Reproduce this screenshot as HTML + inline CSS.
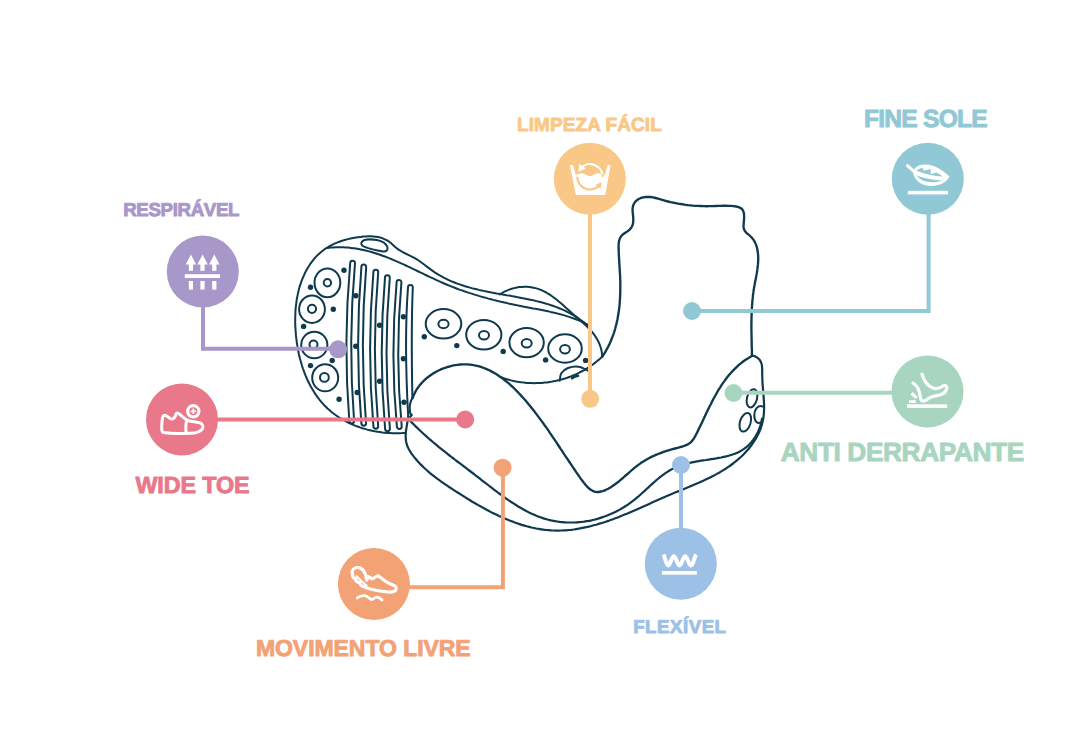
<!DOCTYPE html>
<html><head><meta charset="utf-8"><style>
html,body{margin:0;padding:0;background:#fff;width:1080px;height:750px;overflow:hidden}
svg{display:block}
</style></head><body>
<svg width="1080" height="750" viewBox="0 0 1080 750">
<rect width="1080" height="750" fill="#fff"/>
<g fill="none" stroke="#0f3a4e" stroke-width="2.00" stroke-linecap="round" stroke-linejoin="round">
<path d="M404.7,432.9L402.3,433.1L399.9,433.2L397.4,433.3L395.0,433.3L392.5,433.2L390.0,433.1L387.5,433.0L384.9,432.8L382.4,432.5L379.9,432.1L377.4,431.7L374.8,431.3L372.3,430.8L369.8,430.2L367.3,429.6L364.9,428.9L362.4,428.2L360.0,427.4L357.5,426.5L355.1,425.6L352.8,424.6L350.4,423.6L348.1,422.5L345.9,421.4L343.6,420.2L341.5,418.9L339.3,417.6L337.2,416.2L335.2,414.8L333.2,413.3L331.2,411.7L329.4,410.1L327.5,408.5L325.8,406.7L324.0,405.0L322.4,403.2L320.8,401.3L319.2,399.4L317.7,397.4L316.3,395.4L314.9,393.4L313.6,391.3L312.3,389.1L311.0,387.0L309.9,384.8L308.7,382.5L307.6,380.3L306.6,378.0L305.6,375.7L304.7,373.3L303.8,370.9L302.9,368.5L302.1,366.1L301.4,363.6L300.7,361.2L300.0,358.7L299.4,356.2L298.8,353.7L298.3,351.2L297.8,348.6L297.4,346.1L297.0,343.5L296.6,341.0L296.3,338.4L296.0,335.9L295.8,333.3L295.6,330.7L295.4,328.2L295.3,325.6L295.2,323.1L295.2,320.5L295.2,318.0L295.3,315.5L295.4,312.9L295.5,310.4L295.7,307.9L296.0,305.4L296.3,302.9L296.6,300.5L297.0,298.0L297.5,295.6L298.0,293.1L298.6,290.7L299.2,288.3L299.9,285.9L300.7,283.6L301.5,281.2L302.4,278.9L303.4,276.6L304.4,274.3L305.5,272.0L306.7,269.8L308.0,267.6L309.3,265.5L310.7,263.3L312.2,261.3L313.7,259.3L315.4,257.4L317.1,255.6L318.9,253.9L320.8,252.2L322.7,250.7L324.7,249.2L326.8,247.8L329.0,246.5L331.2,245.3L333.5,244.2L335.8,243.2L338.2,242.2L340.6,241.3L343.0,240.5L345.5,239.8L348.0,239.1L350.5,238.5L353.1,238.0L355.6,237.6L358.2,237.2L360.7,236.9L363.3,236.6L365.8,236.4L368.3,236.3L370.8,236.3L373.3,236.4L375.7,236.7L378.1,237.1L380.4,237.6L382.7,238.3L384.9,239.3L387.1,240.4L389.1,241.7L391.1,243.3L393.0,245.0L394.9,246.8L396.9,248.4L399.0,249.9L401.1,251.2L403.3,252.4L405.5,253.5L407.7,254.6L409.9,255.7L412.2,256.8L414.4,257.9L416.5,259.2L418.6,260.5L420.7,262.0L422.8,263.5L424.8,265.0L426.8,266.6L428.9,268.1L430.9,269.6L433.0,271.1L435.1,272.6L437.2,273.9L439.3,275.2L441.5,276.4L443.7,277.6L445.9,278.7L448.2,279.8L450.4,280.8L452.7,281.8L455.0,282.7L457.3,283.6L459.7,284.4L462.1,285.2L464.4,286.0L466.8,286.7L469.2,287.4L471.7,288.1L474.1,288.7L476.6,289.3L479.0,289.9L481.5,290.4L484.0,291.0L486.5,291.5L489.0,292.0L491.5,292.5L494.0,292.9L496.5,293.4L499.0,293.8L501.5,294.3L504.0,294.7L506.6,295.2L509.1,295.6L511.6,296.1L514.1,296.5L516.6,297.0L519.1,297.4L521.7,297.9L524.2,298.4L526.7,298.9L529.1,299.4L531.6,299.9L534.1,300.5L536.5,301.1L539.0,301.7L541.4,302.3L543.9,303.0L546.3,303.7L548.7,304.4L551.0,305.2L553.4,306.0L555.7,306.9L558.1,307.8L560.4,308.7L562.6,309.7L564.9,310.7L567.1,311.8L569.4,312.9L571.5,314.1L573.7,315.4L575.9,316.7L578.0,318.1L580.0,319.5L582.1,321.0L584.1,322.6L586.1,324.2L588.1,325.9"/>
<path d="M327.8,247.9L330.4,247.6L333.1,247.4L335.7,247.3L338.3,247.2L340.8,247.2L343.4,247.3L345.9,247.4L348.4,247.6L350.9,247.9L353.4,248.2L355.9,248.6L358.4,249.0L360.8,249.5L363.3,250.0L365.7,250.5L368.1,251.1L370.6,251.8L373.0,252.5L375.4,253.2L377.7,254.0L380.1,254.8L382.5,255.7L384.9,256.5L387.2,257.4L389.6,258.4L391.9,259.3L394.2,260.3L396.6,261.3L398.9,262.3L401.2,263.4L403.5,264.4L405.9,265.5L408.2,266.6L410.5,267.7L412.8,268.8L415.1,269.9L417.4,271.0L419.7,272.1L422.0,273.2L424.4,274.3L426.7,275.5L429.0,276.6L431.3,277.7L433.6,278.7L436.0,279.8L438.3,280.9L440.6,281.9L443.0,283.0L445.3,284.0L447.7,285.0L450.0,285.9L452.4,286.9L454.7,287.8L457.1,288.7L459.5,289.6L461.9,290.4L464.3,291.3L466.7,292.1L469.1,292.9L471.5,293.6L473.9,294.4L476.3,295.1L478.8,295.9L481.2,296.6L483.6,297.3L486.1,297.9L488.5,298.6L491.0,299.2L493.4,299.9L495.9,300.5L498.3,301.1L500.8,301.7L503.3,302.2L505.7,302.8L508.2,303.4L510.7,303.9L513.2,304.4L515.6,304.9L518.1,305.5L520.6,306.0L523.1,306.5L525.6,306.9L528.1,307.4L530.6,307.9L533.1,308.4L535.6,308.8L538.1,309.3L540.6,309.8L543.0,310.3L545.5,310.8L548.0,311.3L550.5,311.9L552.9,312.4L555.4,313.0L557.8,313.6L560.3,314.3L562.7,314.9L565.1,315.6L567.5,316.4L569.9,317.1L572.3,318.0L574.6,318.8L577.0,319.7L579.3,320.7L581.6,321.7L583.9,322.7L586.1,323.8L588.4,325.0"/>
<path d="M499.9,294.4L502.1,293.0L504.4,291.7L506.8,290.6L509.2,289.6L511.7,288.8L514.2,288.1L516.8,287.5L519.4,287.1L522.0,286.9L524.6,286.8L527.1,286.8L529.7,287.0L532.2,287.4L534.7,287.9L537.1,288.6L539.5,289.4L541.8,290.3L544.1,291.4L546.3,292.5L548.5,293.8L550.6,295.2L552.7,296.7L554.7,298.2L556.8,299.8L558.7,301.4L560.7,303.1L562.7,304.8L564.6,306.5L566.5,308.3L568.5,310.0L570.4,311.7L572.3,313.5L574.3,315.2L576.3,316.9L578.3,318.5L580.2,320.2L582.1,321.9L584.0,323.7L585.9,325.4L587.7,327.2L589.5,329.0L591.2,330.9L592.8,332.9L594.3,334.9L595.7,336.9L597.0,339.1L598.2,341.3L599.3,343.6L600.2,346.0L601.0,348.5L601.6,351.1L602.0,353.8L602.3,356.6"/>
<path d="M602.4,356.4L600.5,358.2L598.6,359.9L596.6,361.5L594.6,363.1L592.5,364.7L590.4,366.2L588.2,367.6L586.0,369.0L583.8,370.3L581.5,371.5L579.2,372.7L576.9,373.8L574.6,374.9L572.2,375.8L569.8,376.8L567.3,377.7L564.9,378.5L562.4,379.2L559.9,379.9L557.4,380.5L554.8,381.1L552.3,381.6L549.7,382.0L547.2,382.4L544.6,382.6L542.0,382.9L539.4,383.0L536.8,383.1L534.2,383.2L531.6,383.1L529.1,383.0L526.5,382.9L523.9,382.6L521.3,382.3L518.8,381.9L516.2,381.5L513.7,381.0L511.2,380.4L508.7,379.7L506.2,379.0L503.7,378.2L501.3,377.3"/>
<path d="M412.6,398.2L413.5,395.8L414.6,393.4L415.7,391.2L417.0,389.0L418.5,386.9L420.0,384.9L421.7,383.0L423.4,381.2L425.3,379.4L427.2,377.7L429.2,376.2L431.3,374.7L433.5,373.3L435.7,372.0L438.0,370.8L440.3,369.7L442.7,368.7L445.1,367.8L447.5,367.0L450.0,366.3L452.5,365.7L455.0,365.2L457.5,364.8L460.0,364.5L462.5,364.4L465.0,364.3L467.4,364.4L469.8,364.6L472.3,364.9L474.6,365.3L477.0,365.8L479.3,366.4L481.6,367.1L483.9,368.0L486.1,368.9L488.3,369.8L490.5,370.9L492.7,372.1L494.8,373.3L496.9,374.6L499.0,376.0L501.1,377.4L503.1,378.9L505.1,380.5L507.1,382.1L509.1,383.7L511.0,385.5L512.9,387.2L514.8,389.0L516.6,390.9L518.4,392.7L520.2,394.6L522.0,396.6L523.8,398.5L525.5,400.5L527.2,402.5L528.8,404.5L530.5,406.5L532.1,408.5L533.7,410.5L535.3,412.6L536.8,414.6L538.3,416.6L539.8,418.6L541.3,420.6L542.8,422.6L544.2,424.7L545.7,426.7L547.1,428.7L548.5,430.7L549.9,432.8L551.3,434.8L552.6,436.8L554.0,438.8L555.4,440.9L556.7,442.9L558.1,445.0L559.4,447.0L560.8,449.1L562.2,451.1L563.5,453.2L564.9,455.3L566.3,457.3L567.7,459.4L569.1,461.5L570.5,463.6L571.9,465.7L573.3,467.8L574.8,470.0L576.2,472.1L577.7,474.2L579.2,476.4L580.7,478.6L582.3,480.7L583.9,482.8L585.5,484.8L587.2,486.6L588.9,488.3L590.7,489.7L592.6,490.8L594.6,491.6L596.7,492.0L598.9,492.0L601.2,491.5L603.5,490.8L605.9,489.8L608.2,488.7L610.4,487.4L612.6,486.0L614.7,484.5L616.8,483.0L618.9,481.3L620.9,479.7L622.9,478.0L624.9,476.2L626.8,474.5L628.8,472.8L630.8,471.0L632.7,469.3L634.7,467.7L636.7,466.1L638.7,464.6L640.8,463.1L642.9,461.7L645.0,460.4L647.1,459.2L649.3,458.0L651.4,456.9L653.7,455.9L655.9,454.9L658.2,454.0L660.5,453.1L662.9,452.2L665.2,451.4L667.6,450.6L670.1,449.9L672.5,449.2L675.0,448.5L677.5,447.9L680.1,447.2L682.5,446.5L684.9,445.7L687.2,444.7L689.2,443.5L691.0,442.1L692.5,440.4L693.9,438.5L695.1,436.4L696.2,434.3L697.3,432.1L698.4,429.9L699.5,427.6L700.6,425.4L701.6,423.2L702.7,420.9L703.8,418.6L704.9,416.3L705.9,414.1L707.0,411.8L708.1,409.5L709.2,407.2L710.4,405.0L711.5,402.7L712.7,400.4L713.8,398.2L715.1,396.0L716.3,393.8L717.5,391.6L718.8,389.4L720.2,387.3L721.5,385.2L722.9,383.1L724.4,381.1L725.9,379.0L727.4,377.1L729.0,375.1L730.6,373.2L732.3,371.4L734.0,369.6L735.8,367.8L737.6,366.1L739.5,364.4L741.5,362.8L743.5,361.3L745.6,359.8L747.8,358.4L750.1,357.1L752.4,355.8" stroke-width="2.35"/>
<path d="M752.0,355.5L751.9,353.0L751.9,350.4L751.8,347.9L751.7,345.4L751.7,342.9L751.6,340.3L751.6,337.8L751.5,335.3L751.5,332.7L751.4,330.2L751.4,327.7L751.4,325.2L751.4,322.6L751.5,320.1L751.5,317.6L751.6,315.1L751.7,312.5L751.8,310.0L751.9,307.5L752.1,305.0L752.3,302.5L752.5,299.9L752.8,297.4L753.0,294.9L753.4,292.4L753.7,289.9L754.1,287.4L754.6,284.9L755.0,282.4L755.5,279.9L756.0,277.4L756.5,274.9L756.9,272.4L757.3,269.9L757.6,267.4L757.9,264.9L758.1,262.4L758.2,259.8L758.2,257.3L758.1,254.8L757.8,252.3L757.4,249.8L756.9,247.3L756.1,244.9L755.1,242.6L753.9,240.4L752.4,238.4L750.6,236.5L748.6,234.7L746.7,233.1L745.0,231.3L744.0,229.3L743.5,227.0L743.6,224.5L743.8,221.9L744.1,219.1L744.1,216.4L744.0,213.8L743.4,211.5L742.4,209.5L740.8,208.1L738.6,207.1L736.2,206.5L733.6,206.2L731.0,205.9L728.5,205.8L725.9,205.7L723.3,205.7L720.8,205.8L718.2,205.9L715.7,206.0L713.1,206.1L710.6,206.1L708.0,206.2L705.5,206.2L703.0,206.1L700.5,206.0L698.0,205.9L695.5,205.8L693.0,205.6L690.5,205.3L688.0,205.1L685.6,204.8L683.1,204.4L680.6,204.0L678.1,203.6L675.6,203.1L673.1,202.6L670.6,202.1L668.1,201.5L665.6,200.8L663.1,200.1L660.6,199.4L658.1,198.7L655.6,198.0L653.1,197.4L650.6,197.0L648.1,196.9L645.6,197.0L643.2,197.4L640.8,198.0L638.7,199.0L636.8,200.3L635.1,201.9L633.9,203.8L633.0,206.0L632.6,208.5L632.6,211.2L632.9,214.1L633.2,216.9L633.3,219.7L633.2,222.3L632.7,224.7L631.8,226.8L630.5,228.7L628.8,230.4L626.8,231.8L624.5,233.2L622.5,234.7L620.9,236.5L619.8,238.5L619.1,240.8L618.7,243.2L618.6,245.8L618.6,248.4L618.7,251.0L618.8,253.6L618.9,256.2L619.1,258.8L619.2,261.3L619.4,263.8L619.5,266.3L619.7,268.8L619.8,271.3L620.0,273.8L620.1,276.3L620.2,278.8L620.3,281.3L620.3,283.8L620.3,286.4L620.3,288.9L620.3,291.4L620.2,294.0L620.1,296.5L620.0,299.0L619.8,301.6L619.6,304.1L619.4,306.6L619.1,309.1L618.7,311.7L618.3,314.2L617.9,316.7L617.5,319.2L616.9,321.6L616.4,324.1L615.7,326.5L615.1,329.0L614.4,331.4L613.6,333.8L612.7,336.2L611.8,338.5L610.9,340.9L609.9,343.2L608.8,345.4L607.6,347.7L606.4,349.9L605.2,352.1L603.8,354.3L602.4,356.4" stroke-width="2.35"/>
<path d="M751.8,355.2L754.9,356.2L757.3,357.6L759.1,359.2L760.4,361.0L761.3,363.0L761.9,365.2L762.1,367.5L762.2,369.9L762.2,372.4L762.2,374.9L762.3,377.5L762.4,380.0L762.5,382.6L762.7,385.2L762.9,387.8L763.1,390.4L763.3,393.0L763.5,395.6L763.7,398.2L763.9,400.8L764.0,403.4L764.1,406.0L764.1,408.5L764.0,411.0L763.9,413.5L763.6,416.0L763.3,418.5L762.8,420.9L762.2,423.3L761.6,425.7L760.8,428.0L759.9,430.3L759.0,432.5L757.9,434.7L756.7,436.9L755.5,439.1L754.2,441.2L752.8,443.2L751.4,445.3L749.9,447.2L748.3,449.2L746.6,451.1L744.9,452.9L743.2,454.7L741.4,456.5L739.5,458.2L737.6,459.8L735.7,461.4L733.7,463.0L731.7,464.5L729.7,466.0L727.6,467.4L725.5,468.8L723.4,470.1L721.2,471.4L719.1,472.7L716.9,473.9L714.7,475.1L712.4,476.3L710.2,477.4L707.9,478.5L705.6,479.6L703.3,480.7L701.0,481.7L698.7,482.8L696.3,483.8L694.0,484.8L691.6,485.8L689.3,486.8L686.9,487.8L684.6,488.7L682.2,489.7L679.9,490.7L677.5,491.6L675.1,492.6L672.8,493.6L670.5,494.5L668.1,495.5L665.8,496.5L663.5,497.5L661.2,498.6L658.9,499.6L656.6,500.6L654.3,501.6L652.0,502.6L649.7,503.7L647.5,504.7L645.2,505.7L642.9,506.7L640.6,507.8L638.4,508.8L636.1,509.8L633.8,510.8L631.5,511.8L629.2,512.7L626.9,513.7L624.6,514.6L622.3,515.6L620.0,516.5L617.7,517.4L615.3,518.3L613.0,519.2L610.6,520.0L608.3,520.9L605.9,521.7L603.5,522.5L601.1,523.2L598.6,523.9L596.2,524.7L593.7,525.3L591.3,526.0L588.8,526.6L586.3,527.2L583.8,527.7L581.3,528.2L578.7,528.7L576.2,529.1L573.7,529.5L571.2,529.8L568.6,530.0L566.1,530.3L563.6,530.4L561.1,530.5L558.6,530.6L556.1,530.6L553.6,530.5L551.1,530.4L548.6,530.2L546.1,530.0L543.7,529.7L541.2,529.3L538.8,528.9L536.4,528.5L533.9,528.0L531.5,527.5L529.1,526.9L526.7,526.3L524.3,525.6L521.9,524.9L519.5,524.1L517.2,523.3L514.8,522.5L512.5,521.6L510.1,520.7L507.8,519.8L505.4,518.8L503.1,517.8L500.8,516.8L498.5,515.7L496.2,514.6L493.9,513.5L491.6,512.4L489.4,511.2L487.1,510.0L484.9,508.8L482.6,507.6L480.4,506.3L478.2,505.1L475.9,503.8L473.7,502.5L471.5,501.2L469.3,499.8L467.1,498.5L465.0,497.1L462.8,495.8L460.6,494.4L458.5,493.0L456.3,491.7L454.2,490.3L452.1,488.9L449.9,487.5L447.8,486.1L445.7,484.7L443.7,483.3L441.6,481.8L439.6,480.4L437.5,478.9L435.5,477.4L433.6,475.9L431.6,474.3L429.7,472.8L427.8,471.2L426.0,469.5L424.1,467.8L422.4,466.1L420.6,464.4L418.9,462.6L417.2,460.7L415.6,458.8L414.0,456.9L412.5,454.9L411.0,452.8L409.7,450.7L408.5,448.5L407.4,446.3L406.6,443.9L406.1,441.5L405.8,439.1L405.7,436.6L405.7,434.1L405.9,431.5L406.3,428.9L406.7,426.4L407.1,423.8L407.6,421.3L408.0,418.8L408.4,416.4" stroke-width="2.2"/>
<path d="M410.3,421.0L412.2,422.9L414.1,424.8L415.9,426.6L417.8,428.4L419.7,430.2L421.6,432.0L423.4,433.7L425.3,435.4L427.2,437.1L429.1,438.8L431.0,440.4L432.9,442.0L434.8,443.6L436.7,445.2L438.6,446.8L440.5,448.3L442.5,449.9L444.4,451.4L446.3,452.9L448.2,454.5L450.2,456.0L452.1,457.5L454.1,459.0L456.0,460.5L458.0,462.0L460.0,463.4L461.9,464.9L463.9,466.4L465.9,467.9L467.9,469.5L469.9,471.0L471.9,472.5L473.9,474.0L475.9,475.6L477.9,477.1L479.9,478.7L481.9,480.3L484.0,481.8L486.0,483.4L488.1,485.0L490.1,486.6L492.2,488.2L494.3,489.8L496.4,491.4L498.5,493.0L500.6,494.5L502.7,496.1L504.8,497.6L506.9,499.1L509.1,500.6L511.2,502.0L513.4,503.4L515.6,504.8L517.8,506.2L520.0,507.5L522.2,508.8L524.4,510.0L526.7,511.2L528.9,512.4L531.2,513.5L533.5,514.5L535.8,515.5L538.1,516.4L540.5,517.3L542.8,518.1L545.2,518.9L547.5,519.5L549.9,520.1L552.3,520.7L554.8,521.1L557.2,521.5L559.6,521.9L562.1,522.1L564.5,522.3L567.0,522.5L569.5,522.5L571.9,522.5L574.4,522.5L576.9,522.3L579.4,522.1L581.8,521.9L584.3,521.6L586.7,521.2L589.2,520.8L591.6,520.3L594.1,519.7L596.5,519.1L598.9,518.4L601.3,517.6L603.7,516.8L606.0,516.0L608.4,515.0L610.7,514.1L613.0,513.0L615.3,511.9L617.6,510.8L619.8,509.6L622.0,508.3L624.2,507.0L626.3,505.6L628.5,504.2L630.6,502.7L632.6,501.2L634.6,499.6L636.6,497.9L638.6,496.3L640.6,494.5L642.5,492.8L644.4,491.1L646.3,489.3L648.2,487.6L650.1,485.8L652.0,484.1L653.9,482.4L655.8,480.7L657.8,479.0L659.7,477.4L661.7,475.9L663.7,474.4L665.8,472.9L667.8,471.6L669.9,470.3L672.1,469.1L674.3,468.0L676.6,467.0L678.9,466.1L681.2,465.3L683.6,464.5L686.0,463.8L688.4,463.2L690.9,462.6L693.3,462.1L695.9,461.6L698.4,461.2L700.9,460.7L703.5,460.3L706.0,460.0L708.6,459.6L711.1,459.2L713.7,458.8L716.2,458.4L718.7,457.9L721.2,457.5L723.7,456.9L726.2,456.4L728.6,455.7L731.0,455.0L733.3,454.3L735.5,453.4L737.8,452.4L739.9,451.4L742.0,450.2L744.0,448.9L746.0,447.4L747.8,445.9L749.6,444.2L751.3,442.3L752.9,440.3L754.4,438.2L755.8,436.0L757.0,433.7L758.2,431.4L759.2,428.9L760.1,426.4L760.9,423.9L761.5,421.3L762.0,418.7" stroke-width="2.2"/>
<path d="M412.4,398 C410,402 409.3,406 409.8,411 C410.2,414 411.5,415 411.9,415 L410,417"/>
<path d="M350.2,263.1 Q343.1,342.1 349.3,421.0 A2.4,2.4 0 0 0 354.1,421.0 Q347.9,342.1 355.0,263.1 A2.4,2.4 0 0 0 350.2,263.1 Z"/>
<path d="M361.4,266.9 Q354.8,345.4 361.4,423.8 A2.4,2.4 0 0 0 366.1,423.8 Q359.6,345.4 366.2,266.9 A2.4,2.4 0 0 0 361.4,266.9 Z"/>
<path d="M373.4,272.1 Q366.8,349.2 373.4,426.3 A2.4,2.4 0 0 0 378.2,426.3 Q371.6,349.2 378.2,272.1 A2.4,2.4 0 0 0 373.4,272.1 Z"/>
<path d="M385.0,277.7 Q378.4,353.2 385.1,428.8 A2.4,2.4 0 0 0 389.9,428.8 Q383.2,353.2 389.8,277.7 A2.4,2.4 0 0 0 385.0,277.7 Z"/>
<path d="M396.6,282.3 Q390.1,354.5 396.9,426.6 A2.4,2.4 0 0 0 401.7,426.6 Q394.9,354.5 401.4,282.3 A2.4,2.4 0 0 0 396.6,282.3 Z"/>
<path d="M412.4,398 Q411.0,330.0 412.8,287.3 A2.4,2.4 0 0 0 408.0,287.3 Q404.0,340.0 408.2,416.4"/>
<ellipse cx="327.4" cy="282.8" rx="12.9" ry="14.4"/>
<circle cx="327.4" cy="282.8" r="3.7"/>
<ellipse cx="312.0" cy="309.2" rx="12.9" ry="13.7"/>
<circle cx="312.0" cy="308.8" r="4.1"/>
<ellipse cx="314.3" cy="345.0" rx="13.1" ry="13.3"/>
<circle cx="313.5" cy="344.5" r="4.0"/>
<ellipse cx="325.2" cy="377.8" rx="13.0" ry="13.5"/>
<circle cx="324.4" cy="377.4" r="4.4"/>
<ellipse cx="443.5" cy="323.8" rx="17.8" ry="14.7"/>
<ellipse cx="443.5" cy="324.0" rx="5.1" ry="4.3"/>
<ellipse cx="483.8" cy="334.8" rx="17.6" ry="14.8"/>
<ellipse cx="484.0" cy="335.2" rx="5.0" ry="4.3"/>
<ellipse cx="526.6" cy="342.6" rx="17.2" ry="14.6"/>
<ellipse cx="526.7" cy="343.3" rx="5.0" ry="4.3"/>
<ellipse cx="565.0" cy="348.5" rx="16.8" ry="14.2"/>
<ellipse cx="565.0" cy="349.2" rx="4.9" ry="4.3"/>
<path d="M362,241.6 C364,239.2 371,238.9 377,240 C382,241 386,243.5 387.4,247 C388.3,250 386.3,251.8 383,251.4 C377,250.5 369,248.6 364,246.6 C361,245.4 360.8,243.1 362,241.6 Z"/>
<path d="M559.7,380.7 C560.0,379.5 559.9,375.4 561.3,373.3 C562.7,371.2 565.1,369.1 568.0,368.0 C570.9,366.9 575.4,366.2 578.7,366.7 C582.0,367.1 586.5,370.0 588.0,370.7"/>
<path d="M572,378.2 Q575,376 578,375.8" stroke-width="2.6"/>
<ellipse cx="752" cy="398.3" rx="5" ry="9.3" transform="rotate(14 752 398.3)"/>
<ellipse cx="745.3" cy="422.3" rx="5.3" ry="9.6" transform="rotate(18 745.3 422.3)"/>
<path d="M762.5,406.5 C757.5,404.5 754.3,410 754.3,415.5 C754.3,421.5 757.5,424.5 762,422"/>
</g>
<g fill="#0f3a4e">
<circle cx="344.0" cy="270.3" r="2.7"/>
<circle cx="310.5" cy="287.2" r="2.7"/>
<circle cx="333.3" cy="309.2" r="2.7"/>
<circle cx="303.6" cy="326.4" r="2.7"/>
<circle cx="332.2" cy="360.5" r="2.7"/>
<circle cx="310.5" cy="365.6" r="2.7"/>
<circle cx="339.1" cy="399.2" r="2.7"/>
<circle cx="355.8" cy="295.8" r="2.7"/>
<circle cx="355.8" cy="346.2" r="2.7"/>
<circle cx="357.2" cy="392.5" r="2.7"/>
<circle cx="379.6" cy="325.2" r="2.7"/>
<circle cx="379.6" cy="381.3" r="2.7"/>
<circle cx="403.4" cy="316.8" r="2.7"/>
<circle cx="403.4" cy="358.8" r="2.7"/>
<circle cx="404.0" cy="402.3" r="2.7"/>
<circle cx="424.3" cy="336.8" r="2.7"/>
<circle cx="456.8" cy="345.6" r="2.7"/>
<circle cx="503.2" cy="351.4" r="2.7"/>
<circle cx="545.6" cy="359.9" r="2.7"/>
<circle cx="585.6" cy="360.4" r="2.7"/>
</g>
<g fill="none" stroke-width="4" stroke-linecap="butt" stroke-linejoin="miter">
<path d="M203,300 V348.8 H338" stroke="#a897c9"/>
<path d="M210,419.6 H465" stroke="#e9788b"/>
<path d="M590,205 V399" stroke="#f9c886"/>
<path d="M928.6,205 V310.9 H692" stroke="#91c8d5"/>
<path d="M900,392.8 H733.5" stroke="#a8d5bf"/>
<path d="M681,535 V465" stroke="#9dc0e6"/>
<path d="M400,587.3 H502.9 V467.7" stroke="#f3a276"/>
</g>
<circle cx="338.1" cy="349.3" r="9" fill="#a897c9"/>
<circle cx="465.2" cy="419.5" r="9" fill="#e9788b"/>
<circle cx="590.2" cy="398.8" r="9" fill="#f9c886"/>
<circle cx="692.0" cy="311.0" r="9" fill="#91c8d5"/>
<circle cx="733.5" cy="393.0" r="9" fill="#a8d5bf"/>
<circle cx="681.0" cy="465.0" r="9" fill="#9dc0e6"/>
<circle cx="502.6" cy="467.7" r="9" fill="#f3a276"/>
<circle cx="202.8" cy="271.6" r="36" fill="#a897c9"/>
<circle cx="182.0" cy="419.4" r="36" fill="#e9788b"/>
<circle cx="589.8" cy="178.8" r="36" fill="#f9c886"/>
<circle cx="927.8" cy="178.8" r="36" fill="#91c8d5"/>
<circle cx="927.5" cy="391.5" r="36" fill="#a8d5bf"/>
<circle cx="680.8" cy="563.7" r="36" fill="#9dc0e6"/>
<circle cx="373.9" cy="584.0" r="36" fill="#f3a276"/>
<g fill="#ffffff">
<path d="M190.9,254.6 L185.7,264.4 L196.1,264.4 Z"/>
<rect x="188.8" y="264" width="4.2" height="6.8"/>
<rect x="188.8" y="281" width="4.2" height="8.6"/>
<path d="M202.6,254.6 L197.4,264.4 L207.8,264.4 Z"/>
<rect x="200.4" y="264" width="4.2" height="6.8"/>
<rect x="200.4" y="281" width="4.2" height="8.6"/>
<path d="M214.3,254.6 L209.1,264.4 L219.5,264.4 Z"/>
<rect x="212.2" y="264" width="4.2" height="6.8"/>
<rect x="212.2" y="281" width="4.2" height="8.6"/>
<rect x="184.8" y="274.2" width="35.2" height="3.8"/>
</g>
<g fill="none" stroke="#ffffff" stroke-width="3" stroke-linecap="round" stroke-linejoin="round">
<path d="M165.1,415.2 C167.5,415.5 169,418.8 171.2,419 C173.5,419.2 175,417 175.5,415.7 C176,413.5 176.3,412.8 177.2,412.9 C178.5,413 180,414.5 181.3,415.7 C183.5,417.5 185.5,419.5 187.8,420.5 C190,421.3 192,421.6 194,421.8 C197,422.2 200,422.6 201.8,424 C203.5,425.5 203.2,428.5 201.2,430.2 C199.5,431.8 197.5,432.6 194.5,433 C190,433.5 186,433.5 180,433.4 C174,433.3 168,433 163.6,432.4 C162,432.2 161.6,431 161.7,428 C161.8,424 162,420 162.6,417.5 C163,416 164,415.1 165.1,415.2 Z"/>
<path d="M186.5,421.3 C185.8,424 185.7,428 186,432.5"/>
<circle cx="193.3" cy="411.3" r="5.6" stroke-width="3.2"/>
</g>
<g stroke="#ffffff" stroke-width="1.7"><path d="M193.3,408.6 V414 M190.6,411.3 H196"/></g>
<defs><clipPath id="below"><path d="M560,176 L574.6,176 C578,173.5 581,172.8 583.1,173.6 C586,174.4 588,176.5 590,176.5 C592,176.5 594,174.2 596.4,173.6 C599,172.9 602,173.8 605.5,176 L620,176 L620,200 L560,200 Z"/></clipPath>
<clipPath id="above"><path d="M560,150 L620,150 L620,176 L605.5,176 C602,173.8 599,172.9 596.4,173.6 C594,174.2 592,176.5 590,176.5 C588,176.5 586,174.4 583.1,173.6 C581,172.8 578,173.5 574.6,176 L560,176 Z"/></clipPath></defs>
<path d="M569.8,165.1 L573,165.1 L576,176 L604.5,176 L607.6,165.1 L610.6,165.1 L605.2,194.9 L575.9,194.9 Z" fill="#ffffff"/>
<path d="M574.6,176 C578,173.5 581,172.8 583.1,173.6 C586,174.4 588,176.5 590,176.5 C592,176.5 594,174.2 596.4,173.6 C599,172.9 602,173.8 605.5,176 L605.5,180 L574.6,180 Z" fill="#ffffff"/>
<g fill="none" stroke-width="2.2" clip-path="url(#above)" stroke="#ffffff"><path d="M580.3,168.6 A12.8,12.8 0 0 1 602.8,176.8"/><path d="M577.2,176.8 A12.8,12.8 0 0 0 600.5,184"/></g>
<g fill="none" stroke-width="2.2" clip-path="url(#below)" stroke="#f9c886"><path d="M580.3,168.6 A12.8,12.8 0 0 1 602.8,176.8"/><path d="M577.2,176.8 A12.8,12.8 0 0 0 600.5,184"/></g>
<path d="M578.3,171.8 L579.4,164 L585.8,168.5 Z" fill="#ffffff" clip-path="url(#above)"/>
<path d="M601.8,181.9 L600.7,188.8 L595.4,185.1 Z" fill="#f9c886"/>
<path d="M912.8,172 C914.5,167 919.5,164.3 926,164.6 C934,165 942,169.5 949.6,176.6 C946.5,182.5 939.5,186.2 931,186.1 C922,185.8 914.8,181.5 912.8,172 Z" fill="#ffffff"/>
<path d="M916.3,170.6 C918.5,169 920.5,168.3 922.8,168.1 L923.4,170.6 L926.8,170 L930.8,168.9 L930.5,173.9 L936.8,172.6 L943,176.6 C934,176.2 925,174.3 916.3,170.6 Z" fill="#91c8d5"/>
<path d="M916.6,175.6 C925,178.7 934,180.2 942.2,180.4 C937.5,182.2 931.5,182.6 926,181.6 C922,180.8 919,178.6 916.6,175.6 Z" fill="#91c8d5"/>
<path d="M907.4,165.6 L914,171.4" stroke="#ffffff" stroke-width="3" stroke-linecap="round"/>
<rect x="907.8" y="190.8" width="40.2" height="3.6" fill="#ffffff"/>
<rect x="907.1" y="404.3" width="40" height="3.6" fill="#ffffff"/>
<rect x="909" y="400.2" width="6.8" height="2.8" fill="#ffffff"/>
<g fill="none" stroke="#ffffff" stroke-width="3.2" stroke-linecap="butt" stroke-linejoin="round">
<path d="M911.6,393.3 L916.6,397.9"/>
<path d="M921.6,373 C922.6,376 924,380.5 926.4,383.1 C928.5,385.5 931.5,388 935.4,388.6 C938.5,389 941,387.5 943.2,385.8 C945,384.8 946.8,385.8 946.8,388 C946.6,390.5 944.5,392.8 942,394.2 C940,395.4 937.5,395.5 935.4,395.8 C932.5,396.2 930,397.2 928,398.8 C926.5,400.2 924.5,401.4 922.5,401 C920.8,400.5 920.6,398.5 920.3,396.8 C919.8,393.5 919.5,390.5 917.5,387.5 C916,385 914,383.5 912.1,382.2"/>
</g>
<path d="M663.6,554.5 C665.5,558.5 666,565.4 668.2,565.4 C670.5,565.4 671.5,556.2 673.8,556.2 C676,556.2 677.2,565.4 679.5,565.4 C681.8,565.4 683,556.2 685.2,556.2 C687.5,556.2 688.6,565.4 690.9,565.4 C693.2,565.4 694,558.5 696,554.5" fill="none" stroke="#ffffff" stroke-width="4" stroke-linecap="butt" stroke-linejoin="round"/>
<rect x="661.9" y="571" width="35" height="3.7" fill="#ffffff"/>
<g fill="none" stroke="#ffffff" stroke-width="3.2" stroke-linecap="round" stroke-linejoin="round">
<path d="M366.8,580.2 C366.2,576 365,572 362.5,569.5 C360,567.2 356.5,567 354.2,568.5 C352,570 351.6,572.5 352.8,574.8 C351.8,576.8 353.6,578.9 355.8,578.7 C355.2,580.8 357.6,582.8 359.8,582.5 C359.6,584.6 361.8,586.6 364,586.6 C368,588.8 374,590 380,591 C386,592 391.5,592.5 393.8,591.6 C396.5,590.5 396.8,588 395.3,586.3 C393.5,584.8 390.5,583.8 388.5,583 C385.5,581.5 383.5,580 381.8,578.6 L377.9,575.6 L372.3,578.8 L368.4,576.6 Z"/>
<path d="M356.5,576.2 C358.5,578 361,580.5 363,582.5 C364.5,583.8 365.5,584.8 366.5,585.5" stroke-width="2.2"/>
<path d="M357.2,598 C359.5,596 362.5,595.2 365.5,595.8 C368.5,596.5 370,599.8 371.9,599.5 C373.5,599 374.5,597 377,597.2 C379.5,597.5 381,598.8 382,600" stroke-width="2.8"/>
</g>
<text x="123.20" y="216.45" style="font-family:'Liberation Sans',sans-serif;font-weight:bold;font-size:18.68px;letter-spacing:-0.331px" fill="#a897c9" stroke="#a897c9" stroke-width="0.9" stroke-linejoin="round" text-rendering="geometricPrecision">RESPIRÁVEL</text>
<text x="135.43" y="492.55" style="font-family:'Liberation Sans',sans-serif;font-weight:bold;font-size:23.33px;letter-spacing:-0.100px" fill="#e9788b" stroke="#e9788b" stroke-width="0.9" stroke-linejoin="round" text-rendering="geometricPrecision">WIDE TOE</text>
<text x="517.08" y="131.45" style="font-family:'Liberation Sans',sans-serif;font-weight:bold;font-size:18.97px;letter-spacing:0.100px" fill="#f9c886" stroke="#f9c886" stroke-width="0.9" stroke-linejoin="round" text-rendering="geometricPrecision">LIMPEZA FÁCIL</text>
<text x="863.90" y="127.45" style="font-family:'Liberation Sans',sans-serif;font-weight:bold;font-size:24.64px;letter-spacing:-0.760px" fill="#91c8d5" stroke="#91c8d5" stroke-width="0.9" stroke-linejoin="round" text-rendering="geometricPrecision">FINE SOLE</text>
<text x="780.80" y="460.55" style="font-family:'Liberation Sans',sans-serif;font-weight:bold;font-size:26.24px;letter-spacing:-0.386px" fill="#a8d5bf" stroke="#a8d5bf" stroke-width="0.9" stroke-linejoin="round" text-rendering="geometricPrecision">ANTI DERRAPANTE</text>
<text x="633.20" y="633.35" style="font-family:'Liberation Sans',sans-serif;font-weight:bold;font-size:18.68px;letter-spacing:0.517px" fill="#9dc0e6" stroke="#9dc0e6" stroke-width="0.9" stroke-linejoin="round" text-rendering="geometricPrecision">FLEXÍVEL</text>
<text x="255.91" y="656.35" style="font-family:'Liberation Sans',sans-serif;font-weight:bold;font-size:23.04px;letter-spacing:-0.077px" fill="#f3a276" stroke="#f3a276" stroke-width="0.9" stroke-linejoin="round" text-rendering="geometricPrecision">MOVIMENTO LIVRE</text>
</svg>
</body></html>
